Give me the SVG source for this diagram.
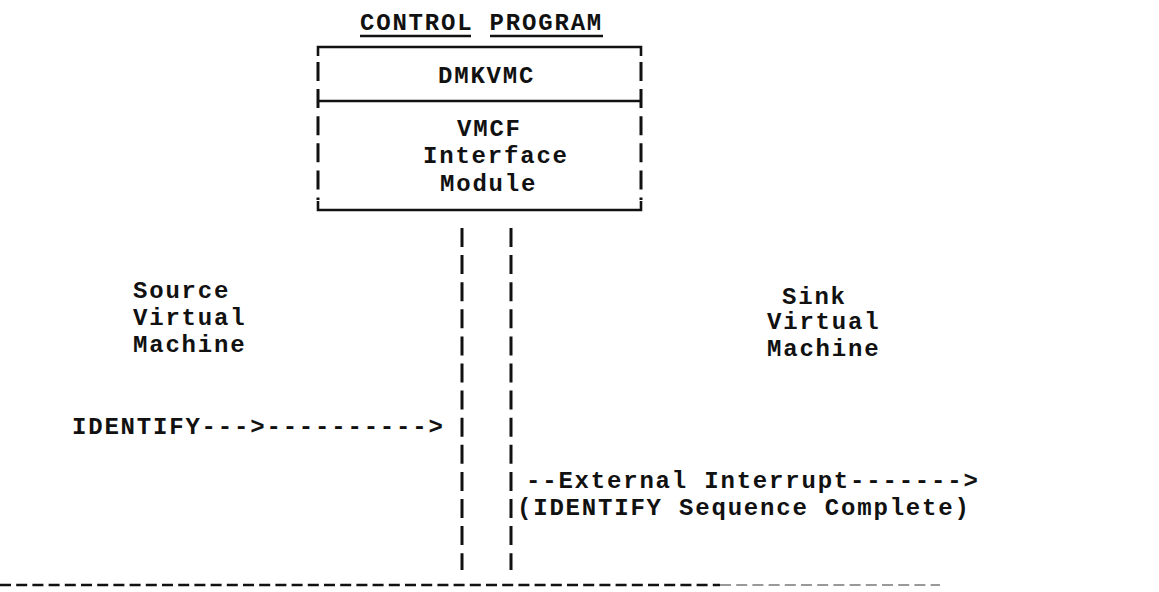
<svg xmlns="http://www.w3.org/2000/svg" width="1159" height="592" viewBox="0 0 1159 592">
  <style>
    .t { font-family: "Liberation Mono", "Courier New", monospace; font-size: 24px; font-weight: bold; letter-spacing: 1.8px; fill: #111; }
    .ln { stroke: #111; stroke-width: 2.6; fill: none; stroke-linecap: butt; }
    .bar { stroke: #111; stroke-width: 3; fill: none; stroke-dasharray: 19 8.1; }
  </style>
  <rect width="1159" height="592" fill="#fff"/>

  <!-- title with per-word underline -->
  <g id="title">
    <text class="t" x="360" y="30">CONTROL PROGRAM</text>
    <line class="ln" x1="360" y1="36" x2="471" y2="36"/>
    <line class="ln" x1="490" y1="36" x2="603" y2="36"/>
  </g>

  <!-- control program module box -->
  <g id="cp-box">
    <path class="ln" d="M318 56 V47 H641 V56"/>
    <line class="ln" x1="318" y1="101" x2="641" y2="101"/>
    <path class="ln" d="M318 201 V210 H641 V201"/>
    <line class="bar" x1="318" y1="62" x2="318" y2="200"/>
    <line class="bar" x1="641" y1="62" x2="641" y2="200"/>
    <text class="t" x="438" y="83">DMKVMC</text>
    <text class="t" x="457" y="136">VMCF</text>
    <text class="t" x="423" y="163">Interface</text>
    <text class="t" x="440" y="191">Module</text>
  </g>

  <g id="source-vm">
    <text class="t" x="133" y="298">Source</text>
    <text class="t" x="133" y="325">Virtual</text>
    <text class="t" x="133" y="352">Machine</text>
  </g>

  <g id="sink-vm">
    <text class="t" x="782" y="304">Sink</text>
    <text class="t" x="767" y="329">Virtual</text>
    <text class="t" x="767" y="356">Machine</text>
  </g>

  <!-- connectors: interface paths, typed arrows and the page rule -->
  <g id="connectors">
    <line class="bar" x1="462" y1="228" x2="462" y2="570"/>
    <line class="bar" x1="511" y1="228" x2="511" y2="570"/>
    <text class="t" x="72" y="434">IDENTIFY---&gt;----------&gt;</text>
    <text class="t" x="526" y="488">--External Interrupt-------&gt;</text>
    <text class="t" x="517" y="515">(IDENTIFY Sequence Complete)</text>
    <line x1="0" y1="585" x2="720" y2="585" stroke="#111" stroke-width="2.6" stroke-dasharray="11 5.2"/>
    <line x1="720" y1="585" x2="940" y2="585" stroke="#999" stroke-width="2.2" stroke-dasharray="11 5.2"/>
  </g>
</svg>
